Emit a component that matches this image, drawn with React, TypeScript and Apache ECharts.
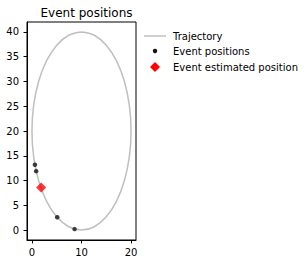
import React, { useEffect, useRef } from "react";
import * as echarts from "echarts";

const trajectoryX = [10, 7.41, 5, 2.93, 1.34, 0.34, 0, 0.34, 1.34, 2.93, 5, 7.41, 10, 12.59, 15, 17.07, 18.66, 19.66, 20, 19.66, 18.66, 17.07, 15, 12.59, 10];
const trajectoryY = [40, 39.32, 37.32, 34.14, 30, 25.18, 20, 14.82, 10, 5.86, 2.68, 0.68, 0, 0.68, 2.68, 5.86, 10, 14.82, 20, 25.18, 30, 34.14, 37.32, 39.32, 40];
const eventX = [0.6, 0.85, 5.1, 8.6];
const eventY = [13.2, 11.9, 2.6, 0.2];
const estimatedX = [1.85];
const estimatedY = [8.6];
const xTicks = [0, 10, 20];
const yTicks = [0, 5, 10, 15, 20, 25, 30, 35, 40];
const legendLabels = ["Trajectory", "Event positions", "Event estimated position"];
const titleText = "Event positions";

const FONT = "DejaVu Sans";

export default function App() {
  const ref = useRef<HTMLDivElement>(null);
  useEffect(() => {
    if (!ref.current) return;
    const chart = echarts.init(ref.current, null, { renderer: "svg" });
    const zip = (xs: number[], ys: number[]) => xs.map((x, i) => [x, ys[i]]);
    const legendY = [36, 51, 67];
    chart.setOption({
      animation: false,
      backgroundColor: "#ffffff",
      title: {
        text: titleText,
        left: 81.5,
        top: 2,
        textAlign: "center",
        textStyle: { fontFamily: FONT, fontSize: 12, fontWeight: "normal", color: "#000" },
      },
      grid: {
        left: 27,
        top: 22,
        width: 109,
        height: 218,
        show: true,
        borderColor: "#000",
        borderWidth: 1,
        backgroundColor: "transparent",
      },
      xAxis: {
        type: "value",
        min: -1,
        max: 21,
        splitLine: { show: false },
        axisLine: { show: true, onZero: false, lineStyle: { color: "#000", width: 1 } },
        axisTick: { show: true, inside: false, length: 3.5, lineStyle: { color: "#000" }, customValues: xTicks },
        axisLabel: { margin: 7, fontFamily: FONT, fontSize: 10, color: "#000", customValues: xTicks },
      },
      yAxis: {
        type: "value",
        min: -2,
        max: 42,
        splitLine: { show: false },
        axisLine: { show: true, onZero: false, lineStyle: { color: "#000", width: 1 } },
        axisTick: { show: true, inside: false, length: 3.5, lineStyle: { color: "#000" }, customValues: yTicks },
        axisLabel: { margin: 8, fontFamily: FONT, fontSize: 10, color: "#000", customValues: yTicks },
      },
      series: [
        {
          name: legendLabels[0],
          type: "line",
          data: zip(trajectoryX, trajectoryY),
          symbol: "none",
          smooth: 0.4,
          lineStyle: { color: "#bfbfbf", width: 1.5 },
          z: 1,
        },
        {
          name: legendLabels[1],
          type: "scatter",
          data: zip(eventX, eventY),
          symbol: "circle",
          symbolSize: 4.5,
          itemStyle: { color: "#111" },
          z: 2,
        },
        {
          name: legendLabels[2],
          type: "scatter",
          data: zip(estimatedX, estimatedY),
          symbol: "diamond",
          symbolSize: [10, 10],
          itemStyle: { color: "#ff0000" },
          z: 3,
        },
      ],
      graphic: [
        {
          type: "line",
          shape: { x1: 144, y1: legendY[0], x2: 166, y2: legendY[0] },
          style: { stroke: "#bfbfbf", lineWidth: 1.5 },
        },
        {
          type: "circle",
          shape: { cx: 155, cy: legendY[1], r: 2.2 },
          style: { fill: "#111" },
        },
        {
          type: "polygon",
          shape: {
            points: [
              [155, legendY[2] - 5],
              [160, legendY[2]],
              [155, legendY[2] + 5],
              [150, legendY[2]],
            ],
          },
          style: { fill: "#ff0000" },
        },
        ...legendLabels.map((t, i) => ({
          type: "text",
          x: 173,
          y: legendY[i],
          style: {
            text: t,
            fontFamily: FONT,
            fontSize: 10,
            fill: "#000",
            verticalAlign: "middle",
          },
        })),
      ],
    });
    return () => chart.dispose();
  }, []);
  return <div ref={ref} style={{ width: 308, height: 264, position: "absolute", left: 0, top: 0 }} />;
}
